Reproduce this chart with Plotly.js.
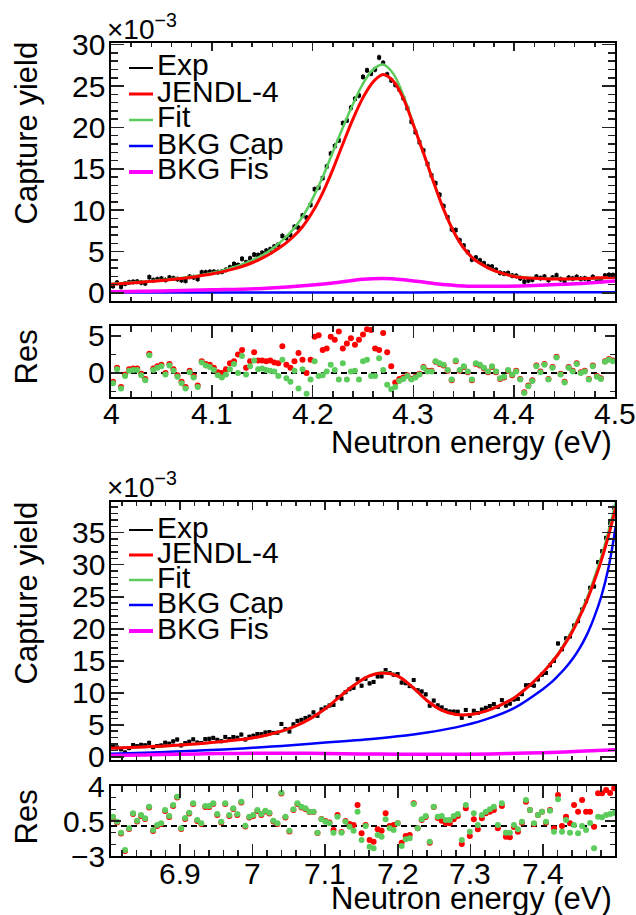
<!DOCTYPE html>
<html><head><meta charset="utf-8">
<script src="https://cdn.plot.ly/plotly-3.0.1.min.js"></script>
<style>html,body{margin:0;padding:0;background:#fff}#plot{width:636px;height:915px}</style>
</head><body><div id="plot"></div><script>
// ---------------- DATA (yield values in units of 1e-3) ----------------
// Top panel: 4.0 - 4.5 eV
const topBinStart = 4.002, topBinWidth = 0.004;   // histogram bin centres
const topExp = [0.83,1.24,0.75,1.12,1.29,1.34,1.37,1.26,1.16,1.91,
 1.55,1.65,1.74,1.57,1.86,1.77,1.67,1.54,1.47,1.97,
 1.89,1.68,2.49,2.49,2.55,2.56,2.51,2.57,2.80,3.09,
 3.50,3.37,4.13,3.70,4.18,4.63,4.58,4.85,5.10,5.28,
 5.61,5.83,6.89,6.64,6.99,7.99,7.87,9.35,9.11,10.63,
 12.54,12.74,13.88,15.28,16.84,17.76,18.44,20.52,20.84,22.38,
 23.45,23.85,26.10,26.90,26.50,27.00,28.45,27.80,26.40,25.70,
 25.15,24.60,23.54,22.32,20.70,19.43,18.21,17.22,15.59,14.19,
 13.26,11.86,10.49,9.14,7.69,7.60,6.34,5.72,4.92,4.04,
 4.28,3.93,3.58,3.20,3.18,2.80,2.43,2.33,2.40,2.10,
 2.06,1.78,1.36,1.50,1.60,1.97,1.79,1.97,1.56,1.86,
 2.13,1.66,1.44,1.84,1.74,1.94,1.71,1.76,1.55,1.93,
 1.67,1.62,2.10,2.18,2.16];
const topResFit = [-1.4,0.5,-2.1,-0.4,0.3,0.4,0.4,-0.3,-1.0,2.4,
 0.4,0.7,0.9,-0.2,1.0,0.3,-0.5,-1.4,-2.1,0.1,
 -0.6,-1.9,1.4,1.0,0.8,0.4,-0.3,-0.6,-0.2,0.5,
 1.2,0.0,2.3,-0.2,0.9,1.7,0.5,0.6,0.4,0.3,
 0.2,-0.4,1.8,-0.7,-1.2,0.3,-2.1,0.5,-2.8,-0.9,
 1.6,-0.4,-0.3,0.2,1.1,0.4,-0.9,1.3,-0.9,0.2,
 0.3,-0.9,1.6,1.8,-0.4,-0.4,2.0,0.4,-1.6,-2.2,
 -1.9,-1.1,-0.8,-0.4,-0.9,-0.6,-0.2,0.7,0.2,0.2,
 1.6,1.3,1.1,0.4,-0.9,1.7,0.4,0.9,0.2,-0.9,
 1.3,1.1,0.7,0.2,0.9,0.2,-0.7,-0.5,0.4,-0.2,
 0.2,-0.9,-2.7,-1.8,-1.1,0.9,0.1,1.1,-0.9,0.7,
 2.1,-0.2,-1.3,0.7,0.2,1.2,0.0,0.2,-0.9,0.9,
 -0.5,-0.8,1.5,1.8,1.6];
const topResJendl = [-1.2,0.7,-1.9,-0.2,0.5,0.6,0.6,-0.1,-0.8,2.6,
 0.6,0.9,1.1,0.0,1.2,0.5,-0.3,-1.2,-1.9,0.3,
 -0.4,-1.7,1.6,1.2,1.1,0.7,0.1,0.0,0.5,1.3,
 1.6,2.5,3.1,0.7,1.6,2.8,1.7,1.7,1.6,1.7,
 1.4,1.3,3.6,1.1,0.7,1.6,2.7,1.8,0.0,1.8,
 4.9,5.1,3.1,3.3,4.9,4.5,5.6,3.3,4.0,4.7,
 3.8,4.5,5.2,5.9,5.8,3.3,3.1,5.4,2.8,0.9,
 -1.3,-0.8,-0.6,-0.3,-0.8,-0.5,-0.1,0.8,0.3,0.3,
 1.5,1.2,1.0,0.3,-1.0,1.6,0.3,0.8,0.1,-1.0,
 1.2,1.0,0.6,0.1,0.8,0.1,-0.8,-0.6,0.3,-0.3,
 0.3,-0.8,-2.6,-1.7,-1.0,1.0,0.2,1.2,-0.8,0.8,
 2.2,-0.1,-1.2,0.8,0.3,1.3,0.1,0.3,-0.8,1.0,
 -0.4,-0.7,1.6,1.9,1.7];
const topCurveE = [4.00,4.01,4.02,4.03,4.04,4.05,4.06,4.07,4.08,4.09,4.10,4.11,4.12,4.13,4.14,4.15,4.16,4.17,4.18,4.19,4.20,4.21,4.22,4.23,4.24,4.25,4.26,4.27,4.28,4.29,4.30,4.31,4.32,4.33,4.34,4.35,4.36,4.37,4.38,4.39,4.40,4.41,4.42,4.43,4.44,4.45,4.46,4.47,4.48,4.49,4.50];
const topFit = [1.10,1.17,1.25,1.35,1.45,1.56,1.68,1.82,1.98,2.18,2.42,2.70,3.05,3.45,3.95,4.55,5.35,6.35,7.60,9.20,11.4,14.0,17.0,20.0,22.8,25.3,27.0,27.6,26.5,23.9,20.4,16.9,13.4,10.1,7.4,5.4,4.1,3.3,2.7,2.3,2.05,1.9,1.8,1.75,1.72,1.7,1.7,1.72,1.76,1.8,1.85];
const topJendl = [1.05,1.12,1.20,1.30,1.40,1.50,1.62,1.75,1.90,2.10,2.30,2.55,2.85,3.20,3.65,4.20,4.90,5.70,6.70,8.00,9.80,12.1,14.9,18.0,21.0,23.6,25.5,26.4,25.6,23.5,20.3,16.9,13.4,10.1,7.4,5.4,4.1,3.3,2.7,2.3,2.0,1.85,1.78,1.73,1.7,1.7,1.72,1.75,1.8,1.85,1.9];
const topCapE = [4.0,4.1,4.2,4.3,4.4,4.5];
const topCap = [0.05,0.05,0.06,0.07,0.08,0.10];
const topFisE = [4.00,4.05,4.10,4.15,4.20,4.22,4.25,4.27,4.29,4.32,4.35,4.38,4.42,4.46,4.50];
const topFis = [0.15,0.25,0.38,0.55,0.95,1.2,1.65,1.75,1.6,1.15,0.85,0.8,0.9,1.1,1.45];
const topTickVals = [4, 4.1, 4.2, 4.3, 4.4, 4.5];
const topTickText = ['4', '4.1', '4.2', '4.3', '4.4', '4.5'];
const topYTicks = [0, 5, 10, 15, 20, 25, 30];
const topResYTicks = [0, 5];

// Bottom panel: 6.8 - 7.5 eV
const botBinStart = 6.8078, botBinWidth = 0.00552;
const botExp = [1.58,1.46,1.17,0.68,1.36,1.84,1.66,1.86,1.79,2.18,
 1.51,1.69,1.77,2.20,2.05,2.41,2.70,1.79,2.14,2.35,
 2.73,2.22,2.15,2.76,2.81,2.95,2.65,2.44,3.10,2.77,
 3.09,2.97,3.47,2.71,3.13,3.29,3.56,3.54,3.79,3.87,
 3.73,3.76,5.13,4.32,3.96,5.07,5.61,5.77,6.06,6.27,
 6.94,6.40,7.40,7.69,8.02,8.10,9.32,9.10,10.09,10.57,
 10.77,12.12,11.10,12.20,11.47,11.69,12.55,12.57,13.54,13.09,
 12.82,12.92,11.60,11.50,11.05,11.99,10.40,10.20,9.75,7.99,
 8.78,8.03,7.70,7.26,7.06,7.05,7.04,6.09,7.32,6.40,
 7.18,6.84,7.37,7.64,7.93,8.23,7.79,8.86,8.00,8.30,
 8.95,9.05,9.79,11.17,11.22,11.12,12.10,12.84,13.09,14.29,
 15.0,17.7,16.8,18.5,18.8,20.5,21.2,23.0,24.3,26.4,
 26.6,30.4,32.1,34.2,36.5,38.9];
const botResFit = [0.93,0.43,-0.67,-2.4,-0.23,1.27,0.53,1.1,0.77,1.93,
 -0.4,0.1,0.27,1.6,1.0,2.1,2.93,-0.23,0.8,1.33,
 2.27,0.6,0.27,2.0,2.0,2.27,1.2,0.43,2.27,1.1,
 1.77,1.2,2.43,0.03,0.93,1.1,1.6,1.2,1.53,1.33,
 0.53,0.27,3.33,0.93,-0.47,1.67,2.27,1.93,1.77,1.43,
 1.43,-0.67,0.67,0.43,0.27,-0.67,0.93,-0.67,0.43,-0.07,
 -0.47,1.43,-1.4,0.0,-2.07,-2.23,-0.9,-1.07,0.67,-0.23,
 -0.4,0.27,-2.0,-1.33,-1.23,2.2,-0.23,0.67,1.0,-1.57,
 1.93,0.93,1.0,0.6,0.6,1.0,1.2,-1.4,2.1,-0.57,
 1.27,0.1,1.1,1.43,1.67,1.93,0.1,2.27,-0.67,-0.67,
 0.1,-0.33,0.43,2.6,1.6,0.27,1.1,1.43,0.43,1.53,
 -0.57,2.67,-0.57,0.6,-0.67,0.1,-0.73,0.0,-0.4,0.3,
 -2.23,0.93,0.87,1.1,1.2,1.3];
const botResJendl = [0.85,0.35,-0.75,-2.5,-0.3,1.2,0.45,1.0,0.7,1.85,
 -0.5,0.0,0.2,1.5,0.9,2.0,2.85,-0.3,0.7,1.25,
 2.2,0.5,0.2,1.9,1.9,2.2,1.1,0.35,2.2,1.0,
 1.7,1.1,2.35,-0.05,0.85,1.0,1.5,1.1,1.45,1.25,
 0.45,0.2,3.25,0.85,-0.55,1.6,2.2,1.85,1.7,1.4,
 1.4,-0.7,0.7,0.5,0.35,-0.4,1.1,-0.6,0.5,0.2,
 0.1,2.1,-0.73,0.1,-1.4,-1.57,-0.33,-0.47,1.27,0.0,
 0.1,0.27,-1.67,-1.0,-0.9,2.27,-0.23,0.6,0.9,-1.67,
 1.9,0.8,0.53,0.27,0.27,0.67,1.0,-1.8,1.77,-1.0,
 0.67,-0.33,0.77,1.27,1.43,1.6,-0.23,2.0,-1.07,-1.13,
 -0.1,-0.57,0.33,2.43,1.6,0.2,1.1,1.43,0.33,1.6,
 -0.23,3.1,0.0,0.93,0.27,2.1,1.43,2.6,1.43,1.43,
 -0.07,3.27,3.27,3.6,3.3,3.77];
const botCurveE = [6.80,6.82,6.84,6.86,6.88,6.90,6.92,6.94,6.96,6.98,7.00,7.02,7.04,7.06,7.08,7.10,7.12,7.14,7.16,7.18,7.20,7.22,7.24,7.26,7.28,7.30,7.32,7.34,7.36,7.38,7.40,7.41,7.42,7.43,7.44,7.45,7.46,7.47,7.48,7.49,7.50];
const botFit = [1.3,1.4,1.5,1.6,1.7,1.85,2.0,2.2,2.4,2.65,2.95,3.4,4.0,4.85,6.0,7.5,9.4,11.2,12.6,13.2,12.6,10.9,8.8,7.3,6.6,6.6,7.1,8.0,9.2,11.0,13.2,14.6,16.0,17.8,19.8,22.1,24.7,27.8,31.2,35.2,39.7];
const botJendl = [1.3,1.4,1.5,1.6,1.7,1.85,2.0,2.2,2.4,2.65,2.95,3.4,4.0,4.85,6.0,7.5,9.4,11.2,12.6,13.1,12.6,10.9,8.8,7.3,6.6,6.6,7.1,8.0,9.2,11.0,13.2,14.5,15.9,17.6,19.5,21.8,24.3,27.3,30.6,34.5,38.9];
const botCapE = [6.80,6.84,6.88,6.92,6.96,7.00,7.04,7.08,7.12,7.16,7.20,7.24,7.28,7.32,7.36,7.40,7.41,7.42,7.43,7.44,7.45,7.46,7.47,7.48,7.49,7.50];
const botCap = [0.45,0.6,0.75,0.95,1.15,1.4,1.7,2.05,2.4,2.75,3.2,3.8,4.6,5.8,7.6,10.6,11.5,12.6,13.8,15.2,16.9,19.0,21.7,25.0,29.5,36.0];
const botFisE = [6.80,6.85,6.90,6.95,7.00,7.05,7.10,7.15,7.20,7.25,7.30,7.35,7.40,7.45,7.50];
const botFis = [0.2,0.3,0.4,0.5,0.55,0.57,0.5,0.45,0.4,0.38,0.4,0.5,0.65,0.85,1.1];
const botTickVals = [6.9, 7.0, 7.1, 7.2, 7.3, 7.4];
const botTickText = ['6.9', '7', '7.1', '7.2', '7.3', '7.4'];
const botYTicks = [0, 5, 10, 15, 20, 25, 30, 35];
const botResYTicks = [-3, 0.5, 4];
const botResYText = ['\u22123', '0.5', '4'];

const legendNames = ['Exp','JENDL-4','Fit','BKG Cap','BKG Fis'];
const xTitle = 'Neutron energy (eV)', yTitle = 'Capture yield', resTitle = 'Res';

// ---------------- STYLE ----------------
const W = 636, H = 915;
const px = v => v / W, py = v => 1 - v / H;
const FONT = 'Liberation Sans, Arial, Helvetica, sans-serif';
const C = {exp:'#000000', jendl:'#ff0000', fit:'#5ccc5c', cap:'#0000ff', fis:'#ff00ff'};
const binCentres = (s, w, n) => Array.from({length:n}, (_, i) => +(s + i * w).toFixed(5));
const topE = binCentres(topBinStart, topBinWidth, topExp.length);
const botE = binCentres(botBinStart, botBinWidth, botExp.length);

function mainTraces(xa, ya, e, exp, ce, fit, jen, capE, cap, fisE, fis) {
  return [
    {x:e, y:exp, xaxis:xa, yaxis:ya, type:'scatter', mode:'markers',
     marker:{symbol:'square', size:4, color:C.exp},
     error_y:{type:'constant', value:0.32, width:0, thickness:1.5, color:C.exp}},
    {x:ce, y:fit, xaxis:xa, yaxis:ya, type:'scatter', mode:'lines', line:{color:C.fit, width:2.5, shape:'spline'}},
    {x:ce, y:jen, xaxis:xa, yaxis:ya, type:'scatter', mode:'lines', line:{color:C.jendl, width:3, shape:'spline'}},
    {x:capE, y:cap, xaxis:xa, yaxis:ya, type:'scatter', mode:'lines', line:{color:C.cap, width:2.5, shape:'spline'}},
    {x:fisE, y:fis, xaxis:xa, yaxis:ya, type:'scatter', mode:'lines', line:{color:C.fis, width:3.5, shape:'spline'}}
  ];
}
function resTraces(xa, ya, e, rj, rf) {
  return [
    {x:e, y:rj, xaxis:xa, yaxis:ya, type:'scatter', mode:'markers', marker:{size:6, color:C.jendl}},
    {x:e, y:rf, xaxis:xa, yaxis:ya, type:'scatter', mode:'markers', marker:{size:6, color:C.fit}}
  ];
}
const data = [
  ...mainTraces('x','y', topE, topExp, topCurveE, topFit, topJendl, topCapE, topCap, topFisE, topFis),
  ...resTraces('x2','y2', topE, topResJendl, topResFit),
  ...mainTraces('x3','y3', botE, botExp, botCurveE, botFit, botJendl, botCapE, botCap, botFisE, botFis),
  ...resTraces('x4','y4', botE, botResJendl, botResFit)
].map(t => Object.assign({showlegend:false, hoverinfo:'skip'}, t));

const XD = [px(111), px(615)];
const baseAx = {showline:true, linewidth:2, linecolor:'#000', mirror:'allticks', ticks:'inside',
  tickcolor:'#222', tickwidth:1.5, showgrid:false, zeroline:false, automargin:false, showticklabels:false};
const ax = o => Object.assign({}, baseAx, o);
const mn = o => Object.assign({ticks:'inside', tickcolor:'#222', tickwidth:1.5}, o);

const layout = {
  width:W, height:H, margin:{l:0, r:0, t:0, b:0}, paper_bgcolor:'#fff', plot_bgcolor:'#fff',
  font:{family:FONT, color:'#000'}, showlegend:false,
  xaxis: ax({domain:XD, anchor:'y', range:[4,4.5], tick0:4, dtick:0.1, ticklen:8,
    minor:mn({tick0:4, dtick:0.02, ticklen:4})}),
  yaxis: ax({domain:[py(301), py(43)], anchor:'x', range:[-0.97,30.2], tick0:0, dtick:5, ticklen:13,
    minor:mn({tick0:0, dtick:1, ticklen:7})}),
  xaxis2: ax({domain:XD, anchor:'y2', range:[4,4.5], tick0:4, dtick:0.1, ticklen:12,
    minor:mn({tick0:4, dtick:0.02, ticklen:6})}),
  yaxis2: ax({domain:[py(397), py(326)], anchor:'x2', range:[-3.25,6.35], tick0:0, dtick:5, ticklen:10,
    minor:mn({tick0:0, dtick:2.5, ticklen:5})}),
  xaxis3: ax({domain:XD, anchor:'y3', range:[6.805,7.499], tick0:6.9, dtick:0.1, ticklen:8,
    minor:mn({tick0:6.8, dtick:0.02, ticklen:4})}),
  yaxis3: ax({domain:[py(760), py(502)], anchor:'x3', range:[-0.5,39.8], tick0:0, dtick:5, ticklen:13,
    minor:mn({tick0:0, dtick:1, ticklen:7})}),
  xaxis4: ax({domain:XD, anchor:'y4', range:[6.805,7.499], tick0:6.9, dtick:0.1, ticklen:12,
    minor:mn({tick0:6.8, dtick:0.02, ticklen:6})}),
  yaxis4: ax({domain:[py(856), py(786)], anchor:'x4', range:[-3,4], tickmode:'array', tickvals:botResYTicks, ticklen:10,
    minor:mn({tickmode:'array', tickvals:[-1.8333,-0.6667,1.6667,2.8333], ticklen:5})}),
  shapes: [], annotations: []
};

// zero lines on residual panels
[['x2','y2'],['x4','y4']].forEach(([xa,ya]) => layout.shapes.push({type:'line', xref:xa+' domain', x0:0, x1:1,
  yref:ya, y0:0, y1:0, layer:'below', line:{color:'#000', width:2, dash:'6px,4px'}}));

// tick labels placed at data positions through the axes
function addXTickLabels(xa, vals, texts, yPix) {
  vals.forEach((v, i) => layout.annotations.push({xref:xa, yref:'paper', x:v, y:py(yPix), xanchor:'center',
    yanchor:'middle', showarrow:false, text:texts[i], font:{family:FONT, size:30, color:'#000'}}));
}
function addYTickLabels(ya, vals, texts) {
  vals.forEach((v, i) => layout.annotations.push({xref:'paper', yref:ya, x:px(107), y:v, xanchor:'right',
    yanchor:'middle', showarrow:false, text:texts ? texts[i] : String(v), font:{family:FONT, size:30, color:'#000'}}));
}
addXTickLabels('x2', topTickVals, topTickText, 413);
addXTickLabels('x4', botTickVals, botTickText, 873);
addYTickLabels('y', topYTicks);
addYTickLabels('y2', topResYTicks);
addYTickLabels('y3', botYTicks);
addYTickLabels('y4', botResYTicks, botResYText);

// legends (drawn manually to match the compact ROOT legend)
const legStyle = [{c:C.exp,w:2},{c:C.jendl,w:3},{c:C.fit,w:2.5},{c:C.cap,w:2.5},{c:C.fis,w:4}];
function addLegend(ys) {
  ys.forEach((yy, i) => {
    layout.shapes.push({type:'line', xref:'paper', yref:'paper', x0:px(129), x1:px(153), y0:py(yy), y1:py(yy),
      line:{color:legStyle[i].c, width:legStyle[i].w}});
    layout.annotations.push({xref:'paper', yref:'paper', x:px(155), y:py(yy-3), xanchor:'left', yanchor:'middle',
      showarrow:false, text:legendNames[i], font:{family:FONT, size:30, color:'#000'}});
  });
}
addLegend([68, 94, 120, 146, 172]);
addLegend([530, 555, 580, 605, 631]);

function addText(text, x, y, xa, ya, size, angle) {
  layout.annotations.push({xref:'paper', yref:'paper', x:px(x), y:py(y), xanchor:xa, yanchor:ya, showarrow:false,
    text:text, textangle:angle||0, font:{family:FONT, size:size, color:'#000'}});
}
// exponent labels
addText('\u00d710<sup>\u22123</sup>', 105, 47, 'left', 'bottom', 28);
addText('\u00d710<sup>\u22123</sup>', 105, 505, 'left', 'bottom', 28);
// axis titles
addText(yTitle, 26, 40, 'center', 'top', 31, -90);
addText(yTitle, 26, 500, 'center', 'top', 31, -90);
addText(resTitle, 26, 328, 'center', 'top', 31, -90);
addText(resTitle, 26, 788, 'center', 'top', 31, -90);
addText(xTitle, 614, 442, 'right', 'middle', 31);
addText(xTitle, 614, 898, 'right', 'middle', 31);

Plotly.newPlot('plot', data, layout, {staticPlot:true, displayModeBar:false});
</script></body></html>
